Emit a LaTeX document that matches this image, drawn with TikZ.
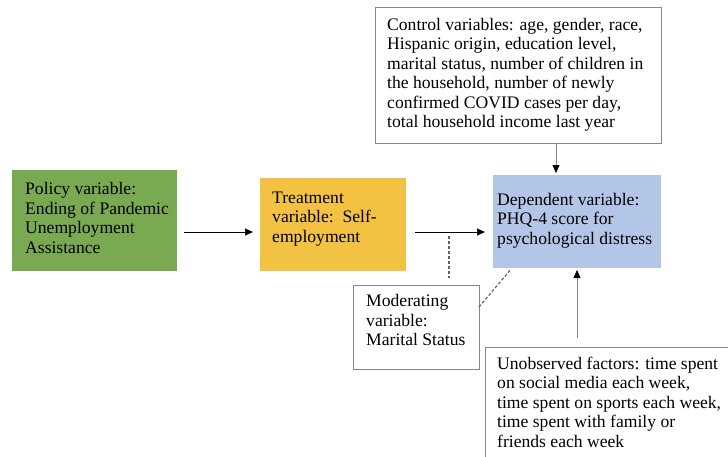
\documentclass[tikz,border=0pt]{standalone}
\usepackage{fontspec}
\setmainfont{Liberation Serif}
\usetikzlibrary{arrows.meta,calc}
\definecolor{pgreen}{RGB}{121,169,81}
\definecolor{pyellow}{RGB}{244,194,67}
\definecolor{pblue}{RGB}{180,198,231}
\definecolor{edgegray}{RGB}{135,135,135}
\definecolor{dashgray}{RGB}{95,95,95}
\begin{document}
\begin{tikzpicture}[x=1pt,y=-1pt,
  box/.style={anchor=north west, inner sep=0pt, outer sep=0pt},
  filled/.style={box, draw=none},
  plain/.style={box, draw=edgegray, line width=0.8pt, fill=white},
  txt/.style={anchor=base west, inner sep=0pt, align=left, font=\fontsize{17.6}{19.5}\selectfont},
  arr/.style={-{Triangle[length=8pt,width=7pt]}, line width=0.7pt},
  garr/.style={-{Triangle[length=8pt,width=7pt,color=black]}, draw=edgegray, line width=0.8pt},
  dline/.style={draw=dashgray, line width=1.1pt, dash pattern=on 3pt off 2pt}]
\useasboundingbox (0,0) rectangle (728,456);
\clip (0,0) rectangle (728,456);
\fill[white] (0,0) rectangle (728,456);

% boxes
\node[filled, fill=pgreen, minimum width=165pt, minimum height=101pt] (g) at (12,170) {};
\node[filled, fill=pyellow, minimum width=146pt, minimum height=93pt] (y) at (260,178) {};
\node[filled, fill=pblue, minimum width=168pt, minimum height=93pt] (b) at (493,175) {};
\node[plain, minimum width=286pt, minimum height=136pt] (c) at (375,7) {};
\node[plain, minimum width=126pt, minimum height=84pt] (m) at (353,285) {};
\node[plain, minimum width=260pt, minimum height=130pt] (u) at (485,347) {};

% texts (anchored at the baseline of their last line)
\node[txt] (gt) at (25,253) {Policy variable:\\Ending of Pandemic\\Unemployment\\Assistance};
\node[txt] (yt) at (272,242) {Treatment\\variable:\ \ Self-\\employment};
\node[txt] (bt) at (497,244) {Dependent variable:\\PHQ-4 score for\\psychological distress};
\node[txt] (ct) at (387,127.5) {Control variables: age, gender, race,\\Hispanic origin, education level,\\marital status, number of children in\\the household, number of newly\\confirmed COVID cases per day,\\total household income last year};
\node[txt] (mt) at (366,345.5) {Moderating\\variable:\\Marital Status};
\node[txt] (ut) at (497,447) {Unobserved factors: time spent\\on social media each week,\\time spent on sports each week,\\time spent with family or\\friends each week};

% helper coordinates
\coordinate (r1) at (0,232);
\coordinate (xc) at (556,0);
\coordinate (xu) at (577,0);
\coordinate (xd) at (449,0);
\coordinate (md) at (0,307);
\coordinate (xb) at (512,0);

% connectors
\draw[arr, shorten <=7pt, shorten >=7pt] (g.east |- r1) -- (y.west |- r1);
\draw[arr, shorten <=9pt, shorten >=8pt] (y.east |- r1) -- (b.west |- r1);
\draw[garr, shorten >=2pt] (c.south -| xc) -- (b.north -| xc);
\draw[garr, shorten <=9pt, shorten >=2pt] (u.north -| xu) -- (b.south -| xu);
\draw[dline, shorten <=4pt, shorten >=7pt] (xd |- r1) -- (m.north -| xd);
\draw[dline, shorten >=2pt] (m.east |- md) -- (b.south -| xb);
\end{tikzpicture}
\end{document}
